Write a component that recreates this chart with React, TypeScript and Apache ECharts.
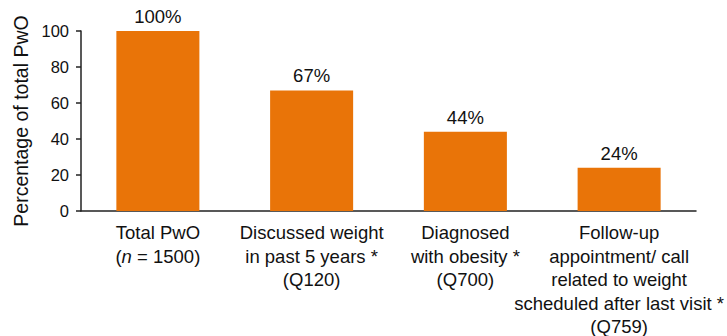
import React, { useEffect, useRef } from "react";
import * as echarts from "echarts";

const categories = [
  "Total PwO\n({i|n} = 1500)",
  "Discussed weight\nin past 5 years *\n(Q120)",
  "Diagnosed\nwith obesity *\n(Q700)",
  "Follow-up\nappointment/ call\nrelated to weight\nscheduled after last visit *\n(Q759)",
];
const values = [100, 67, 44, 24];
const yTicks = [0, 20, 40, 60, 80, 100];

export default function App() {
  const ref = useRef<HTMLDivElement>(null);
  useEffect(() => {
    if (!ref.current) return;
    const chart = echarts.init(ref.current, null, { renderer: "svg" });
    const font = "'Liberation Sans', Arial, sans-serif";
    chart.setOption({
      animation: false,
      grid: { left: 81, right: 31, top: 31, bottom: 125, outerBoundsMode: "none", containLabel: false },
      xAxis: {
        type: "category",
        data: categories,
        axisLine: { lineStyle: { color: "#222", width: 1.5 } },
        axisTick: { show: false },
        axisLabel: {
          color: "#111",
          fontSize: 18.5,
          fontFamily: font,
          lineHeight: 23.5,
          margin: 10,
          interval: 0,
          rich: {
            i: { fontStyle: "italic", fontSize: 18.5, fontFamily: font, lineHeight: 23.5, color: "#111" },
          },
        },
      },
      yAxis: {
        type: "value",
        min: yTicks[0],
        max: yTicks[yTicks.length - 1],
        interval: 20,
        name: "Percentage of total PwO",
        nameLocation: "middle",
        nameGap: 49,
        nameTextStyle: { color: "#111", fontSize: 19.5, fontFamily: font },
        axisLine: { show: true, lineStyle: { color: "#222", width: 1.5 } },
        axisTick: { show: true, length: 5, lineStyle: { color: "#222", width: 1.5 } },
        splitLine: { show: false },
        axisLabel: { color: "#111", fontSize: 16.5, fontFamily: font, margin: 12 },
      },
      series: [
        {
          type: "bar",
          data: values,
          barWidth: "54%",
          itemStyle: { color: "#E97408" },
          label: {
            show: true,
            position: "top",
            formatter: "{c}%",
            color: "#111",
            fontSize: 18.5,
            fontFamily: font,
            distance: 5,
          },
        },
      ],
    });
    return () => chart.dispose();
  }, []);
  return <div ref={ref} style={{ width: 727, height: 336, position: "absolute", left: 0, top: 0 }} />;
}
